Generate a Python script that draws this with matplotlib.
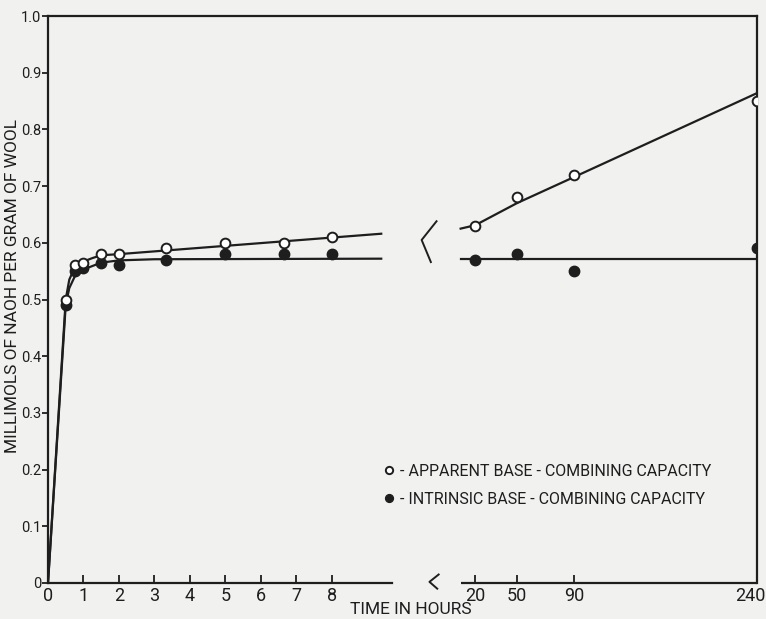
import numpy as np
import matplotlib
matplotlib.use('Agg')
import matplotlib.pyplot as plt
import matplotlib.transforms as mtransforms

plt.rcParams['font.family'] = ['Roboto', 'DejaVu Sans']

# --- Data ---
hours = [0.5, 0.75, 1.0, 1.5, 2.0, 3.33, 5.0, 6.67, 8.0]
apparent = [0.50, 0.56, 0.565, 0.58, 0.58, 0.59, 0.60, 0.60, 0.61]
intrinsic = [0.49, 0.55, 0.555, 0.565, 0.56, 0.57, 0.58, 0.58, 0.58]

long_hours = [20, 50, 90, 240]
apparent_long = [0.63, 0.68, 0.72, 0.85]
intrinsic_long = [0.57, 0.58, 0.55, 0.59]

# hand drawn curves
app_fit_t = [0, 0.5, 0.6, 0.75, 1.0, 1.25, 1.5, 2.0, 9.4]
app_fit = [0, 0.50, 0.535, 0.556, 0.567, 0.573, 0.578, 0.58, 0.616]
int_fit_t = [0, 0.5, 0.6, 0.75, 1.0, 1.5, 2.0, 3.0, 9.4]
int_fit = [0, 0.49, 0.52, 0.54, 0.553, 0.565, 0.569, 0.571, 0.572]
app_long_t = [18, 20, 50, 90, 240]
app_long_fit = [0.625, 0.631, 0.670, 0.716, 0.864]
int_long_t = [18, 240]
int_long_fit = [0.572, 0.572]

xticks = [0, 1, 2, 3, 4, 5, 6, 7, 8, 20, 50, 90, 240]
xticklabels = ['0', '1', '2', '3', '4', '5', '6', '7', '8', '20', '50', '90', '240']
yticks = [0, 0.1, 0.2, 0.3, 0.4, 0.5, 0.6, 0.7, 0.8, 0.9, 1.0]
yticklabels = ['0', '0.1', '0.2', '0.3', '0.4', '0.5', '0.6', '0.7', '0.8', '0.9', '1.0']

# broken time axis: hours 0-10 linear, then the long times squeezed in
knots_data = [0, 10, 20, 50, 90, 240]
knots_disp = [0, 10, 12.05, 13.23, 14.84, 20.0]

def fwd(x):
    return np.interp(x, knots_data, knots_disp)

def inv(x):
    return np.interp(x, knots_disp, knots_data)

ink = '#1e1e1e'
paper = '#f1f1f0'

fig = plt.figure(figsize=(7.66, 6.19), dpi=100, facecolor=paper)
ax = fig.add_axes([48 / 766, 36 / 619, 709 / 766, 567 / 619], facecolor=paper)
ax.set_xscale('function', functions=(fwd, inv))

ax.plot(app_fit_t, app_fit, color=ink, lw=1.6)
ax.plot(int_fit_t, int_fit, color=ink, lw=1.6)
ax.plot(app_long_t, app_long_fit, color=ink, lw=1.6)
ax.plot(int_long_t, int_long_fit, color=ink, lw=1.6)

h1, = ax.plot(hours + long_hours, apparent + apparent_long, 'o', ms=7, mfc='white',
              mec=ink, mew=1.4, zorder=5)
h2, = ax.plot(hours + long_hours, intrinsic + intrinsic_long, 'o', ms=7.5, mfc=ink,
              mec=ink, zorder=4)

ax.set_xlim(0, 240)
ax.set_ylim(0, 1.0)

for s in ax.spines.values():
    s.set_linewidth(1.6)
    s.set_color(ink)
ax.spines['bottom'].set_bounds(0, 9.7)
ax.hlines(0, 18, 240, color=ink, lw=1.6, clip_on=False)

# break marks
ax.plot([0.548, 0.527, 0.540], [0.638, 0.605, 0.566], color=ink, lw=1.4,
        transform=ax.transAxes, clip_on=False)
ax.plot([0.551, 0.538, 0.549], [0.015, 0.002, -0.010], color=ink, lw=1.4,
        transform=ax.transAxes, clip_on=False)

ax.set_xticks(xticks)
ax.set_xticklabels(xticklabels)
ax.set_yticks(yticks)
ax.set_yticklabels(yticklabels)
ax.tick_params(axis='x', direction='in', length=6, width=1.3, color=ink,
               labelsize=13, pad=3, labelcolor=ink)
ax.tick_params(axis='y', direction='out', length=4, width=1.3, color=ink,
               labelsize=10.5, pad=1, labelcolor=ink)
ax.minorticks_off()

# pull the last label (240) a little inside the figure
last = ax.get_xticklabels()[-1]
last.set_transform(last.get_transform() +
                   mtransforms.ScaledTranslation(-5 / 72, 0, fig.dpi_scale_trans))

ax.set_xlabel('TIME IN HOURS', fontsize=12.5, color=ink)
ax.xaxis.set_label_coords(0.512, -0.033)
ax.set_ylabel('MILLIMOLS OF NAOH PER GRAM OF WOOL', fontsize=12.5, color=ink)
ax.yaxis.set_label_coords(-0.040, 0.523)

ax.legend([h1, h2], ['- APPARENT BASE - COMBINING CAPACITY',
                     '- INTRINSIC BASE - COMBINING CAPACITY'],
          loc='upper left', bbox_to_anchor=(0.463, 0.224), frameon=False,
          fontsize=11.5, handlelength=0.6, handletextpad=0.4, borderpad=0,
          labelspacing=0.8, markerscale=0.75, labelcolor=ink)

fig.savefig('out.png', dpi=100, facecolor=paper)
